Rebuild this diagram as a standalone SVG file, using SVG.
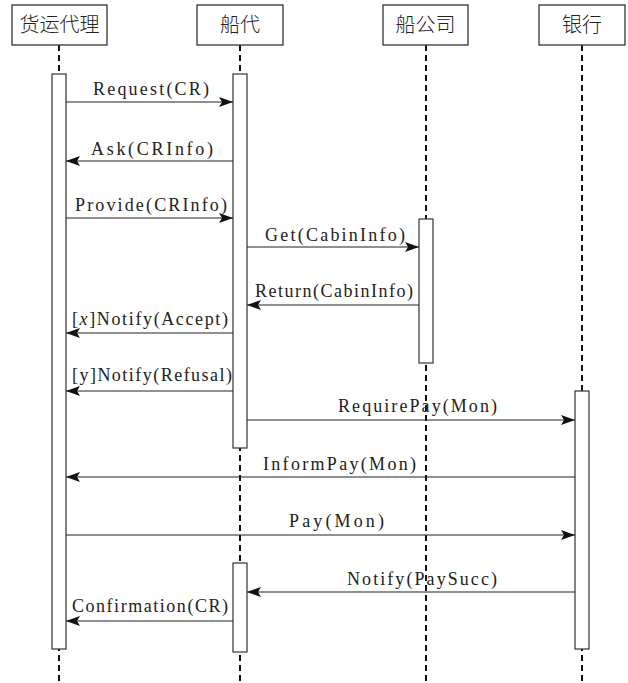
<svg xmlns="http://www.w3.org/2000/svg" width="628" height="683" viewBox="0 0 628 683">
<style>
.box{fill:#fff;stroke:#333;stroke-width:1.3}
.bar{fill:#fff;stroke:#333;stroke-width:1.2}
.life{stroke:#111;stroke-width:2;stroke-dasharray:6 4;fill:none}
.msg{stroke:#222;stroke-width:1.2;fill:none;marker-end:url(#ah)}
.hd{font-family:"Noto Sans CJK SC",sans-serif;font-size:20px;font-weight:300;fill:#222;text-anchor:middle}
.lb{font-family:"Liberation Serif","Noto Sans CJK SC",serif;font-size:18px;fill:#222}
</style>
<defs>
<marker id="ah" markerWidth="14" markerHeight="10" refX="14" refY="5" orient="auto" markerUnits="userSpaceOnUse">
<path d="M0,0 L14,5 L0,10 L3,5 Z" fill="#111"/>
</marker>
</defs>
<g id="lifelines">
<line class="life" x1="59" y1="45" x2="59" y2="683"/>
<line class="life" x1="240" y1="45" x2="240" y2="683"/>
<line class="life" x1="426" y1="45" x2="426" y2="683"/>
<line class="life" x1="582" y1="45" x2="582" y2="683"/>
</g>
<g id="node-huoyun">
<rect class="box" x="12" y="5" width="95" height="40"/>
<text class="hd" x="59.5" y="32">货运代理</text>
<rect class="bar" x="52" y="74" width="14" height="575"/>
</g>
<g id="node-chuandai">
<rect class="box" x="197" y="5" width="86" height="40"/>
<text class="hd" x="240" y="32">船代</text>
<rect class="bar" x="233" y="74" width="14" height="374"/>
<rect class="bar" x="233" y="563" width="14" height="89"/>
</g>
<g id="node-chuangongsi">
<rect class="box" x="383" y="5" width="85" height="40"/>
<text class="hd" x="425.5" y="32">船公司</text>
<rect class="bar" x="419" y="219" width="14" height="144"/>
</g>
<g id="node-yinhang">
<rect class="box" x="539" y="5" width="86" height="40"/>
<text class="hd" x="582" y="32">银行</text>
<rect class="bar" x="575" y="391" width="14" height="258"/>
</g>
<g id="connectors">
<line class="msg" x1="66" y1="102" x2="233" y2="102"/>
<text class="lb" x="93" y="95" textLength="116" lengthAdjust="spacing">Request(CR)</text>
<line class="msg" x1="233" y1="161" x2="66" y2="161"/>
<text class="lb" x="91" y="155" textLength="122" lengthAdjust="spacing">Ask(CRInfo)</text>
<line class="msg" x1="66" y1="218" x2="233" y2="218"/>
<text class="lb" x="75" y="211" textLength="152" lengthAdjust="spacing">Provide(CRInfo)</text>
<line class="msg" x1="247" y1="247" x2="419" y2="247"/>
<text class="lb" x="265" y="241" textLength="140" lengthAdjust="spacing">Get(CabinInfo)</text>
<line class="msg" x1="419" y1="305" x2="247" y2="305"/>
<text class="lb" x="255" y="297" textLength="158" lengthAdjust="spacing">Return(CabinInfo)</text>
<line class="msg" x1="233" y1="333" x2="66" y2="333"/>
<text class="lb" x="72" y="325" textLength="156" lengthAdjust="spacing">[<tspan font-style="italic">x</tspan>]Notify(Accept)</text>
<line class="msg" x1="233" y1="391" x2="66" y2="391"/>
<text class="lb" x="72" y="381" textLength="160" lengthAdjust="spacing">[y]Notify(Refusal)</text>
<line class="msg" x1="247" y1="420" x2="575" y2="420"/>
<text class="lb" x="338" y="412" textLength="159" lengthAdjust="spacing">RequirePay(Mon)</text>
<line class="msg" x1="575" y1="477" x2="66" y2="477"/>
<text class="lb" x="263" y="470" textLength="153" lengthAdjust="spacing">InformPay(Mon)</text>
<line class="msg" x1="66" y1="535" x2="575" y2="535"/>
<text class="lb" x="289" y="527" textLength="95" lengthAdjust="spacing">Pay(Mon)</text>
<line class="msg" x1="575" y1="592" x2="247" y2="592"/>
<text class="lb" x="347" y="585" textLength="150" lengthAdjust="spacing">Notify(PaySucc)</text>
<line class="msg" x1="233" y1="621" x2="66" y2="621"/>
<text class="lb" x="72" y="612" textLength="156" lengthAdjust="spacing">Confirmation(CR)</text>
</g>
</svg>
